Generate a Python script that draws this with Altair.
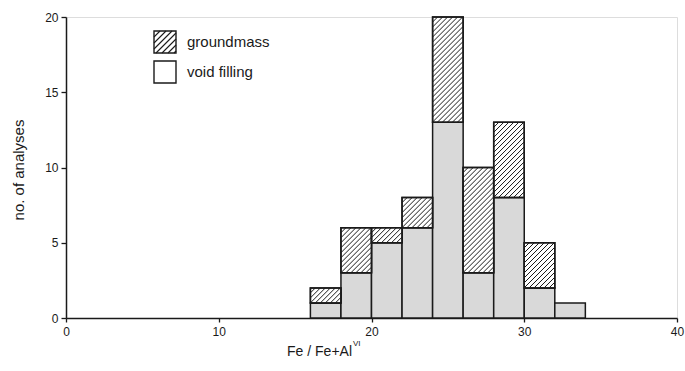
import altair as alt
import pandas as pd
import numpy as np

# ---- data ----
bin_start = [16, 18, 20, 22, 24, 26, 28, 30, 32]
bin_width = 2
void_filling = [1, 3, 5, 6, 13, 3, 8, 2, 1]
groundmass = [1, 3, 1, 2, 7, 7, 5, 3, 0]
x_ticks = [0, 10, 20, 30, 40]
y_ticks = [0, 5, 10, 15, 20]

# ---- layout ----
W, H = 611, 301
X_DOM, Y_DOM = (0, 40), (0, 20)
FONT = "Liberation Sans"
INK = "#1a1a1a"
GRAY = "#d9d9d9"

rows = []
for s, v, g in zip(bin_start, void_filling, groundmass):
    rows.append(dict(x0=s, x1=s + bin_width, v0=0, v1=v, g0=v, g1=v + g, g=g))
df = pd.DataFrame(rows)

# hatch lines ("/") inside groundmass rectangles, computed in data space
sx = W / (X_DOM[1] - X_DOM[0])
sy = H / (Y_DOM[1] - Y_DOM[0])
k = sx / sy
step = 5.0 / sx
segs = []
for r in rows:
    if r["g"] <= 0:
        continue
    x0, x1, y0, y1 = r["x0"], r["x1"], r["g0"], r["g1"]
    c = x0 - y1 / k
    while c < x1:
        lo = max(x0, c + y0 / k)
        hi = min(x1, c + y1 / k)
        if hi > lo:
            segs.append(dict(xa=lo, ya=k * (lo - c), xb=hi, yb=k * (hi - c)))
        c += step
hatch = pd.DataFrame(segs)

xs = alt.Scale(domain=list(X_DOM), nice=False, zero=False)
ys = alt.Scale(domain=list(Y_DOM), nice=False, zero=False)

base = alt.Chart(df)
void_rects = base.mark_rect(fill=GRAY, stroke=INK, strokeWidth=1.5).encode(
    x=alt.X("x0:Q", scale=xs,
            axis=alt.Axis(values=x_ticks, title=None, grid=False, domainColor=INK,
                          domainWidth=1.5, tickColor=INK, tickWidth=1.3, tickSize=4,
                          labelFont=FONT, labelFontSize=12, labelColor=INK, labelPadding=4,
                          labelFlush=False)),
    x2="x1:Q",
    y=alt.Y("v0:Q", scale=ys,
            axis=alt.Axis(values=y_ticks, title=None, grid=False, domainColor=INK,
                          domainWidth=1.5, tickColor=INK, tickWidth=1.3, tickSize=5,
                          labelFont=FONT, labelFontSize=12, labelColor=INK, labelPadding=3)),
    y2="v1:Q",
)
gm_rects = alt.Chart(df[df.g > 0]).mark_rect(fill="white", stroke=INK, strokeWidth=1.5).encode(
    x=alt.X("x0:Q", scale=xs), x2="x1:Q",
    y=alt.Y("g0:Q", scale=ys), y2="g1:Q",
)
hatch_lines = alt.Chart(hatch).mark_rule(color=INK, strokeWidth=1.0).encode(
    x=alt.X("xa:Q", scale=xs), y=alt.Y("ya:Q", scale=ys),
    x2="xb:Q", y2="yb:Q",
)
# redraw outlines on top of hatch
gm_outline = alt.Chart(df[df.g > 0]).mark_rect(fill=None, stroke=INK, strokeWidth=1.5).encode(
    x=alt.X("x0:Q", scale=xs), x2="x1:Q",
    y=alt.Y("g0:Q", scale=ys), y2="g1:Q",
)

# ---- legend (pixel space) ----
legend_labels = ["groundmass", "void filling"]
LX0, LX1 = 88, 110
box_tops = [14, 44]
BOX = 22
leg_boxes = pd.DataFrame([dict(a=LX0, b=LX1, t=t, u=t + BOX, label=l)
                          for t, l in zip(box_tops, legend_labels)])
lsegs = []
t0 = box_tops[0]
bx0, bx1, by0, by1 = LX0, LX1, t0, t0 + BOX
c = bx0 + by0
while c < bx1 + by1:
    lo = max(bx0, c - by1)
    hi = min(bx1, c - by0)
    if hi > lo:
        lsegs.append(dict(xa=lo, ya=c - lo, xb=hi, yb=c - hi))
    c += 6.0
lhatch = pd.DataFrame(lsegs)

leg_rect = alt.Chart(leg_boxes).mark_rect(fill="white", stroke=INK, strokeWidth=1.4).encode(
    x=alt.X("a:Q", scale=None), x2="b:Q",
    y=alt.Y("t:Q", scale=None), y2="u:Q",
)
leg_hatch = alt.Chart(lhatch).mark_rule(color=INK, strokeWidth=1.1).encode(
    x=alt.X("xa:Q", scale=None), y=alt.Y("ya:Q", scale=None),
    x2="xb:Q", y2="yb:Q",
)
leg_text = alt.Chart(leg_boxes).mark_text(
    align="left", baseline="middle", font=FONT, fontSize=15, color=INK, dx=11
).encode(
    x=alt.X("b:Q", scale=None),
    y=alt.Y("m:Q", scale=None),
    text="label:N",
).transform_calculate(m="datum.t + 11")

# ---- axis titles ----
y_title = alt.Chart(pd.DataFrame({"t": ["no. of analyses"]})).mark_text(
    angle=270, font=FONT, fontSize=15, color=INK, baseline="middle", align="center"
).encode(x=alt.value(-47), y=alt.value(153), text="t:N")
x_title = alt.Chart(pd.DataFrame({"t": ["Fe / Fe+Al"]})).mark_text(
    font=FONT, fontSize=14, color=INK, baseline="middle", align="right"
).encode(x=alt.value(286), y=alt.value(335), text="t:N")
x_title_sup = alt.Chart(pd.DataFrame({"t": ["VI"]})).mark_text(
    font=FONT, fontSize=8, color=INK, baseline="middle", align="left"
).encode(x=alt.value(287), y=alt.value(327), text="t:N")

chart = alt.layer(
    void_rects, gm_rects, hatch_lines, gm_outline,
    leg_rect, leg_hatch, leg_text, y_title, x_title, x_title_sup,
).properties(
    width=W, height=H,
    autosize=alt.AutoSizeParams(type="none"),
    padding={"left": 66, "top": 17, "right": 8, "bottom": 53},
).configure_view(stroke=None).configure(background="white")

chart.save("out.html", embed_options={"renderer": "svg", "actions": False})
